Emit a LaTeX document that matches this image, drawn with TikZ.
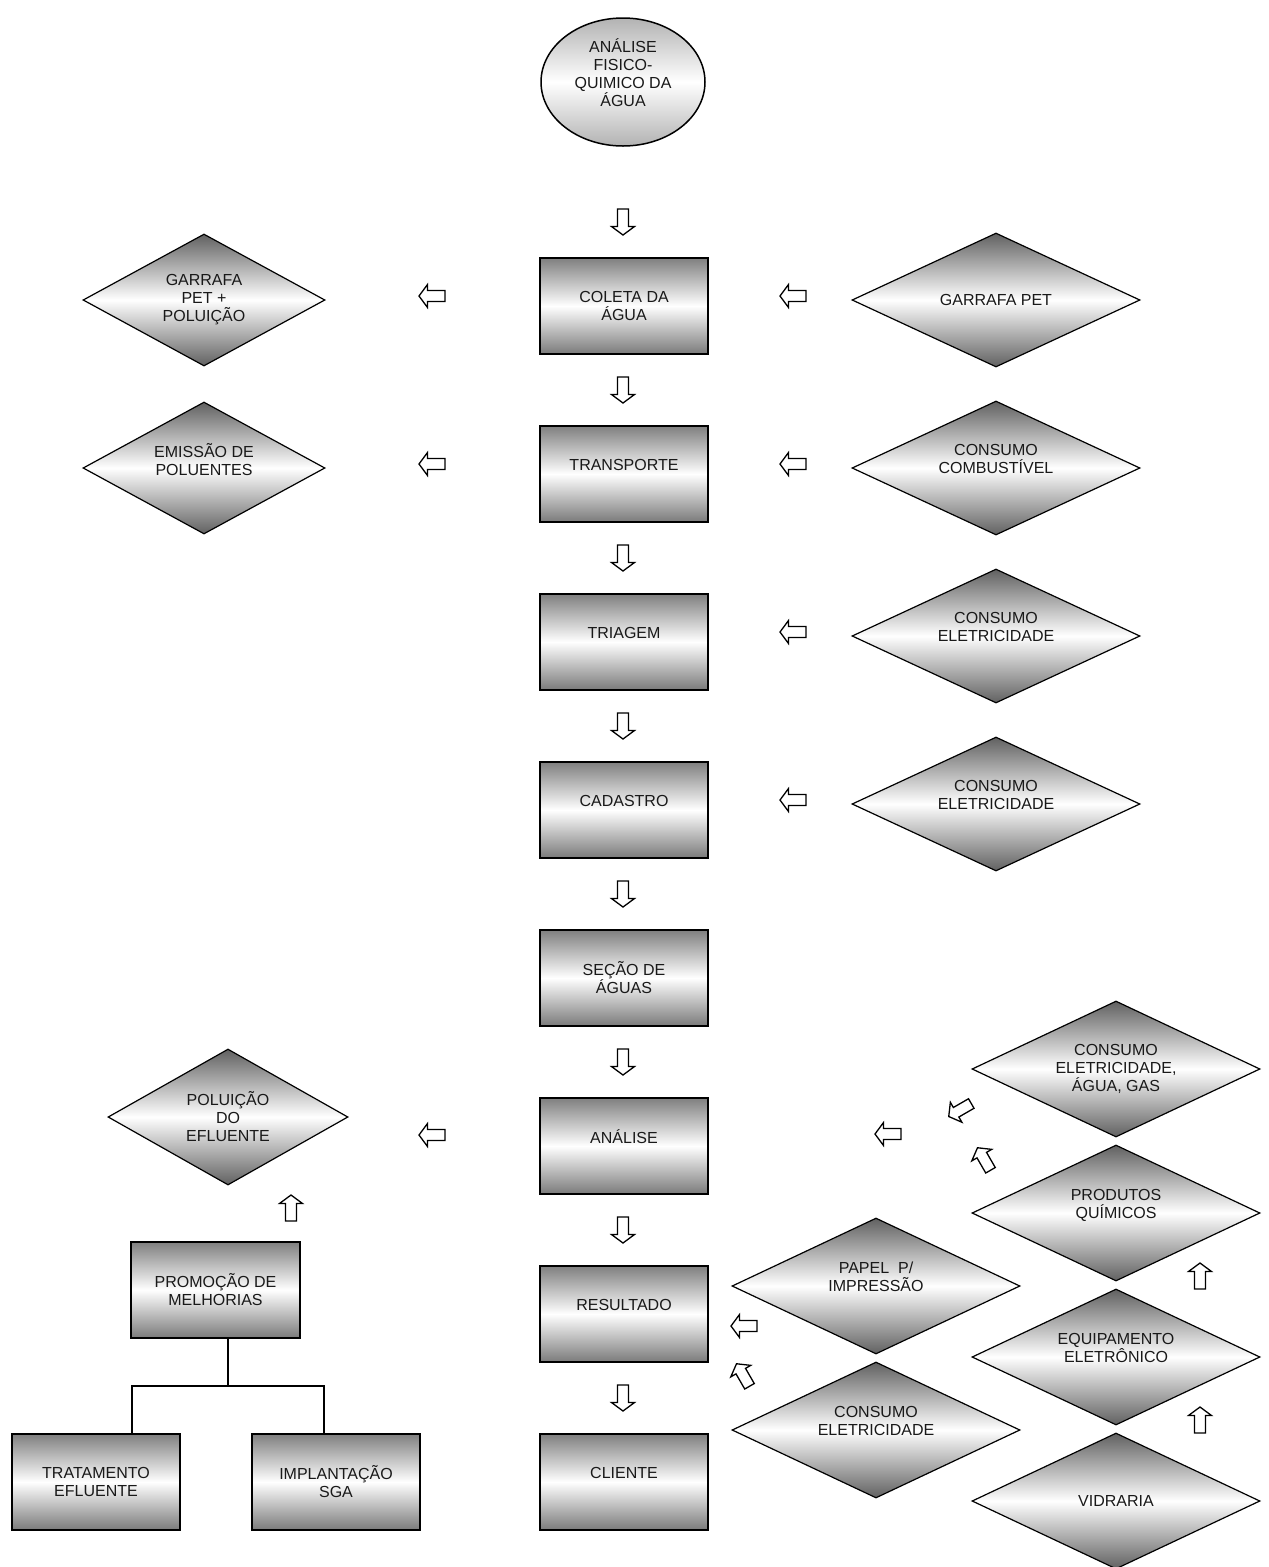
\documentclass[tikz,border=0pt]{standalone}
\usepackage{fontspec}
\setmainfont{Liberation Sans}
\usetikzlibrary{shapes.geometric}
\begin{document}
\begin{tikzpicture}[x=1pt,y=-1pt,
  txt/.style={font=\fontsize{16}{18}\selectfont, align=center, text=black!90},
  stepbox/.style={txt, rectangle, draw=black, line width=2pt, minimum width=168pt, minimum height=96pt,
    top color=black!50, bottom color=black!52, middle color=white, inner sep=0pt},
  dia/.style={txt, diamond, draw=black, line width=1.2pt, aspect=2.1,
    top color=black!62, bottom color=black!62, middle color=white, inner sep=0pt},
  bigdia/.style={dia, minimum width=288pt, minimum height=134pt},
  smalldia/.style={dia, minimum width=242pt, minimum height=132pt},
  conn/.style={draw=black, line width=1.5pt},
  barrow/.pic={\draw[line width=1.3pt, fill=white, line join=miter]
    (-5.5,-13)--(5.5,-13)--(5.5,4.5)--(11.5,4.5)--(0,13)--(-11.5,4.5)--(-5.5,4.5)--cycle;}
]
\useasboundingbox (0,0) rectangle (1269,1567);

% start ellipse
\node[txt, ellipse, draw=black, line width=1.5pt, minimum width=164pt, minimum height=128pt,
  top color=black!30, bottom color=black!30, middle color=white, inner sep=0pt]
  (start) at (623,82) {ANÁLISE\\FISICO-\\QUIMICO DA\\ÁGUA\\\mbox{}};

% main column
\node[stepbox] (coleta) at (624,306) {COLETA DA\\ÁGUA};
\node[stepbox] (transp) at (624,474) {TRANSPORTE\\\mbox{}};
\node[stepbox] (triag) at (624,642) {TRIAGEM\\\mbox{}};
\node[stepbox] (cadas) at (624,810) {CADASTRO\\\mbox{}};
\node[stepbox] (secao) at (624,978) {SEÇÃO DE\\ÁGUAS};
\node[stepbox] (anal) at (624,1146) {ANÁLISE\\\mbox{}};
\node[stepbox] (result) at (624,1314) {RESULTADO\\\mbox{}};
\node[stepbox] (cliente) at (624,1482) {CLIENTE\\\mbox{}};

% down arrows
\foreach \yy in {222,390,558,726,894,1062,1230,1398}
  \pic at (623,\yy) {barrow};

% right inputs
\node[bigdia] (garrafa) at (996,300) {GARRAFA PET};
\node[bigdia] (combust) at (996,468) {CONSUMO\\COMBUSTÍVEL\\\mbox{}};
\node[bigdia] (elet1) at (996,636) {CONSUMO\\ELETRICIDADE\\\mbox{}};
\node[bigdia] (elet2) at (996,804) {CONSUMO\\ELETRICIDADE\\\mbox{}};
\foreach \yy in {296,464,632,800}
  \pic[rotate=-90] at (793,\yy) {barrow};

% left outputs
\node[smalldia] (garpol) at (204,300) {GARRAFA\\PET +\\POLUIÇÃO};
\node[smalldia] (emis) at (204,468) {EMISSÃO DE\\POLUENTES\\\mbox{}};
\node[smalldia, minimum width=240pt, minimum height=136pt] (polef) at (228,1117) {POLUIÇÃO\\DO\\EFLUENTE};
\foreach \yy in {296,464,1135}
  \pic[rotate=-90] at (432,\yy) {barrow};

% improvements
\pic[rotate=180] at (291,1208) {barrow};
\node[stepbox, minimum width=169pt] (prom) at (215.5,1290) {PROMOÇÃO DE\\MELHORIAS};
\node[stepbox] (trat) at (96,1482) {TRATAMENTO\\EFLUENTE};
\node[stepbox] (impl) at (336,1482) {IMPLANTAÇÃO\\SGA};
\coordinate (jm) at (228,1386);
\coordinate (jl) at (132,1386);
\coordinate (jr) at (324,1386);
\draw[conn] (prom.south -| jm) -- (jm);
\draw[conn] (trat.north -| jl) -- (jl) -- (jr) -- (impl.north -| jr);

% analysis inputs
\node[bigdia, minimum height=136pt] (eleagua) at (1116,1069) {CONSUMO\\ELETRICIDADE,\\ÁGUA, GAS};
\node[bigdia, minimum height=136pt] (quim) at (1116,1213) {PRODUTOS\\QUÍMICOS\\\mbox{}};
\node[bigdia, minimum height=136pt] (equip) at (1116,1357) {EQUIPAMENTO\\ELETRÔNICO\\\mbox{}};
\node[bigdia, minimum height=136pt] (vidr) at (1116,1501) {VIDRARIA};
\pic[rotate=180] at (1200,1276) {barrow};
\pic[rotate=180] at (1200,1420) {barrow};
\pic[rotate=210] at (984,1159) {barrow};
\pic[rotate=-60] at (960,1110) {barrow};
\pic[rotate=-90] at (888,1134) {barrow};

% result inputs
\node[bigdia, minimum height=136pt] (papel) at (876,1286) {PAPEL\ \ P/\\IMPRESSÃO\\\mbox{}};
\node[bigdia, minimum height=136pt] (elet3) at (876,1430) {CONSUMO\\ELETRICIDADE\\\mbox{}};
\pic[rotate=-90] at (744,1326) {barrow};
\pic[rotate=210] at (743,1375) {barrow};
\end{tikzpicture}
\end{document}
